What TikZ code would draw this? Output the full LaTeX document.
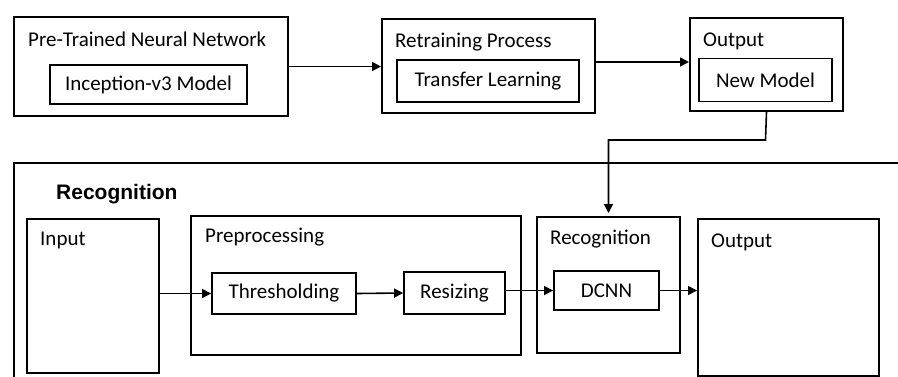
\documentclass[tikz,border=0pt]{standalone}
\usepackage{fontspec}
\setmainfont{Carlito}
\newfontfamily\headfont{Liberation Sans}
\usetikzlibrary{arrows.meta}
\begin{document}
\begin{tikzpicture}[x=1pt,y=-1pt,
  box/.style={draw, line width=2pt, rectangle, inner sep=0pt, anchor=north west},
  ibox/.style={draw, line width=1.8pt, rectangle, inner sep=0pt, anchor=center, font=\fontsize{21}{24}\selectfont},
  lbl/.style={inner sep=0pt, anchor=base west, font=\fontsize{21}{24}\selectfont},
  head/.style={inner sep=0pt, anchor=base west, font=\headfont\bfseries\fontsize{21}{25}\selectfont},
  arr/.style={line width=1.6pt, -{Triangle[length=9pt,width=9pt]}}]
\path[use as bounding box, clip] (0,0) rectangle (898,376);
% top row
\node[box, minimum width=274pt, minimum height=99pt] (pre) at (13,16) {};
\node[lbl] (pret) at (28,46) {Pre-Trained Neural Network};
\node[ibox, minimum width=197pt, minimum height=39pt] (inc) at (148.5,84.5) {Inception-v3 Model};
\node[box, minimum width=213pt, minimum height=94pt] (ret) at (381,18) {};
\node[lbl] (rett) at (395,47) {Retraining Process};
\node[ibox, minimum width=182pt, minimum height=42pt] (tl) at (488,81) {Transfer Learning};
\node[box, minimum width=153pt, minimum height=93pt] (out) at (689,17) {};
\node[lbl] (outt) at (703,46) {Output};
\node[ibox, minimum width=133pt, minimum height=43pt] (nm) at (765.5,80) {New Model};
% bottom container
\node[box, minimum width=920pt, minimum height=240pt] (recbox) at (13,162) {};
\node[head] (rech) at (56,199) {Recognition};
\node[box, minimum width=132pt, minimum height=154pt] (inp) at (26,218) {};
\node[lbl] (inpt) at (40,245) {Input};
\node[box, minimum width=330pt, minimum height=139pt] (pp) at (190,215) {};
\node[lbl] (ppt) at (205,242) {Preprocessing};
\node[ibox, minimum width=144pt, minimum height=41pt] (thr) at (284,293.5) {Thresholding};
\node[ibox, minimum width=101pt, minimum height=42pt] (res) at (454.5,293) {Resizing};
\node[box, minimum width=143pt, minimum height=136pt] (rec) at (536,216) {};
\node[lbl] (rect) at (550,244) {Recognition};
\node[ibox, minimum width=105pt, minimum height=39pt] (dcnn) at (606.5,290.5) {DCNN};
\node[box, minimum width=181pt, minimum height=157pt] (outb) at (697,218) {};
\node[lbl] (outbt) at (711,247) {Output};
% connectors
\draw[arr] (pre.east) -- (pre.east -| ret.west);
\draw[arr] (ret.east |- 0,62) -- (out.west |- 0,62);
\coordinate (bend) at (765.5,140);
\draw[arr, shorten >=3pt] (out.south) -- (bend) -| (rec.north);
\draw[arr] (thr.west -| inp.east) -- (thr.west);
\draw[arr] (thr.east) -- (res.west);
\draw[arr] (res.east |- dcnn.west) -- (dcnn.west);
\draw[arr] (dcnn.east) -- (dcnn.east -| outb.west);
\end{tikzpicture}
\end{document}
